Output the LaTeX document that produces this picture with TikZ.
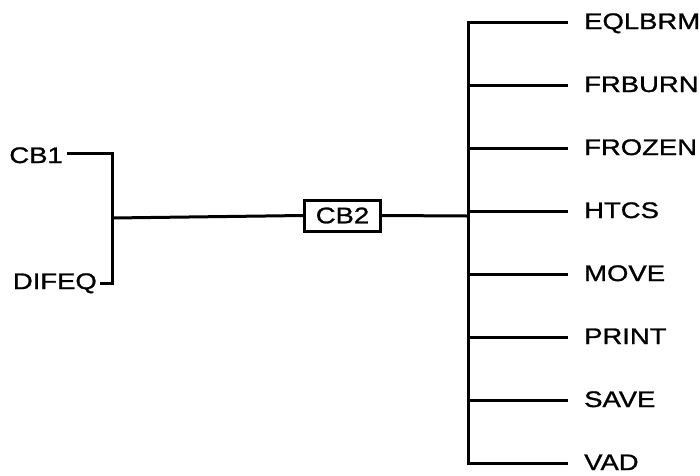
\documentclass[tikz,border=0pt]{standalone}
\usepackage{fontspec}
\setmainfont{Liberation Sans}[FakeStretch=1.22,FakeBold=1.2]
\begin{document}
\begin{tikzpicture}[x=1pt,y=-1pt,
  wire/.style={line width=3pt,line cap=butt,line join=miter},
  lbl/.style={inner sep=0pt,font=\fontsize{22.5}{26}\selectfont},
  rlbl/.style={lbl,anchor=base west},
  llbl/.style={lbl,anchor=base east},
  boxnode/.style={draw,line width=3pt,minimum width=76pt,minimum height=31pt,inner sep=0pt,font=\fontsize{22.5}{26}\selectfont}]
\useasboundingbox (0,0) rectangle (700,475);
% left labels
\node[llbl] (cb1) at (63,163) {CB1};
\node[llbl] (difeq) at (97,289) {DIFEQ};
\coordinate (lt) at (112,153);
\coordinate (lb) at (112,283);
\coordinate (lm) at (112,218);
\draw[wire] ([xshift=4pt,yshift=10pt]cb1.base east) -- (lt) -- (lb) -- ([xshift=3pt,yshift=6pt]difeq.base east);
% box
\node[boxnode] (cb2) at (342.5,215.5) {CB2};
\coordinate (rm) at (468,216);
\draw[wire] (lm) -- (cb2.west);
\draw[wire] (cb2.east) -- (rm);
% right labels
\foreach \n/\t/\y in {a/EQLBRM/22,b/FRBURN/85,c/FROZEN/148,d/HTCS/211,e/MOVE/274,f/PRINT/337,g/SAVE/400,h/VAD/463}{
  \node[rlbl] (\n) at (584,\y+7) {\t};
  \coordinate (v\n) at (468,\y);
}
\draw[wire] ([xshift=-16pt,yshift=7pt]a.base west) -- (va) -- (vh) -- ([xshift=-16pt,yshift=7pt]h.base west);
\foreach \n in {b,c,d,e,f,g}{
  \draw[wire] (v\n) -- ([xshift=-16pt,yshift=7pt]\n.base west);
}
\end{tikzpicture}
\end{document}
